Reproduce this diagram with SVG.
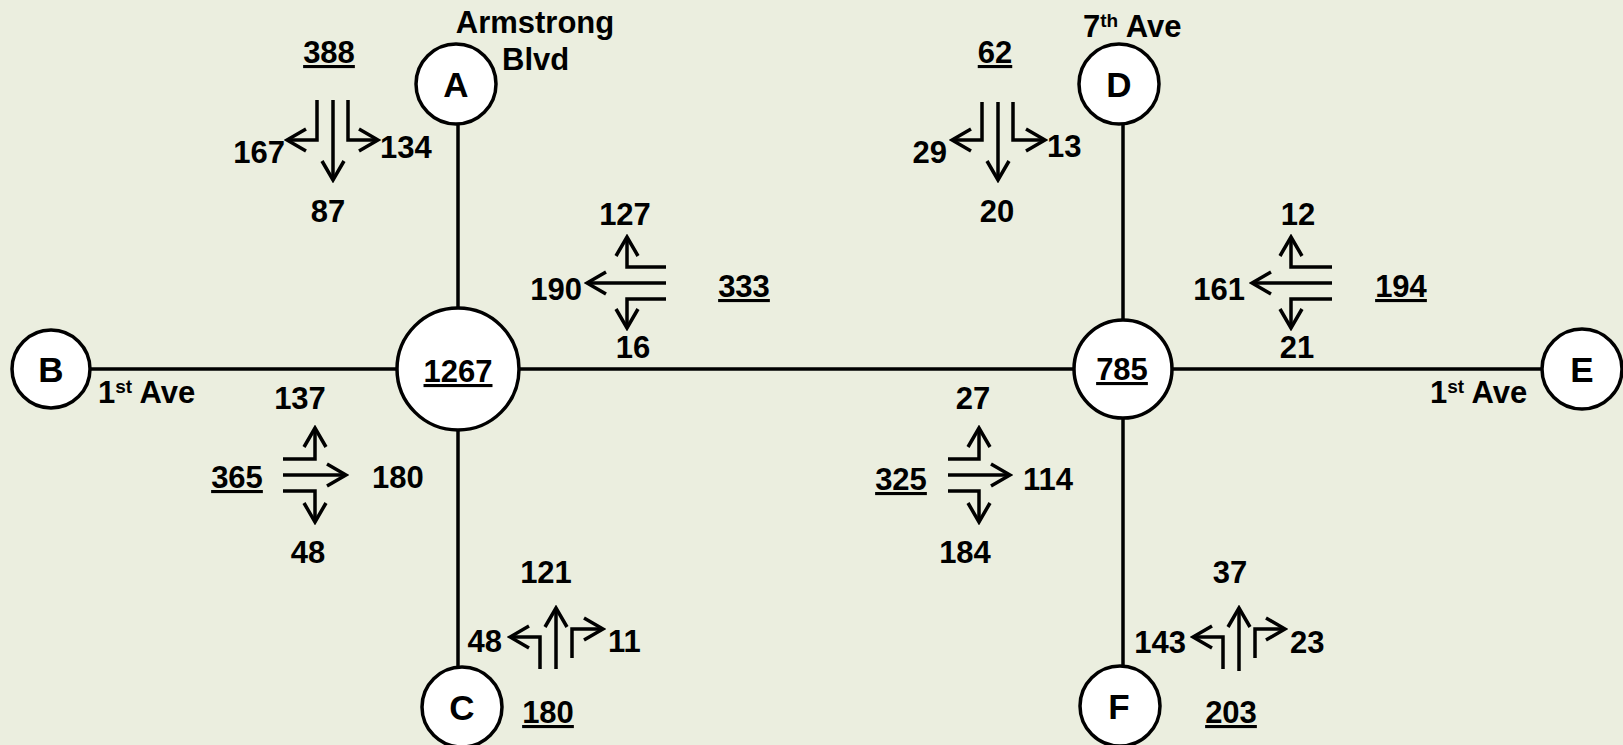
<svg xmlns="http://www.w3.org/2000/svg" width="1623" height="745" viewBox="0 0 1623 745">
<defs>
<style>
.bg{fill:#EBEEDF}
.road{stroke:#000;stroke-width:3.5;fill:none}
.node{fill:#fff;stroke:#000;stroke-width:3.5}
.arr{stroke:#000;stroke-width:3.5;fill:none;marker-end:url(#ah)}
text{font-family:"Liberation Sans",Arial,sans-serif;font-weight:bold;font-size:31px;fill:#000}
.m{text-anchor:middle}
.e{text-anchor:end}
.u{text-decoration:underline}
.lt{font-size:35px;text-anchor:middle}
.sup{font-size:19px}
</style>
<marker id="ah" markerUnits="userSpaceOnUse" markerWidth="26" markerHeight="30" viewBox="-23 -15 26 30" refX="0" refY="0" orient="auto">
<path d="M-19,-11 L0,0 L-19,11" fill="none" stroke="#000" stroke-width="3.5"/>
</marker>
</defs>
<rect class="bg" x="0" y="0" width="1623" height="745"/>

<g id="connectors">
<line class="road" x1="90" y1="369" x2="1542" y2="369"/>
<line class="road" x1="458" y1="124" x2="458" y2="668"/>
<line class="road" x1="1123" y1="125" x2="1123" y2="666"/>
</g>

<g id="node-1267"><circle class="node" cx="458" cy="369" r="61"/><text class="m u" x="458" y="382">1267</text></g>
<g id="node-785"><circle class="node" cx="1123" cy="369" r="49"/><text class="m u" x="1122" y="380">785</text></g>
<g id="node-A"><circle class="node" cx="456" cy="84" r="40"/><text class="lt" x="456" y="97">A</text></g>
<g id="node-B"><circle class="node" cx="51" cy="369" r="39"/><text class="lt" x="51" y="382">B</text></g>
<g id="node-C"><circle class="node" cx="462" cy="707" r="40"/><text class="lt" x="462" y="720">C</text></g>
<g id="node-D"><circle class="node" cx="1119" cy="84" r="40"/><text class="lt" x="1119" y="97">D</text></g>
<g id="node-E"><circle class="node" cx="1582" cy="369" r="40"/><text class="lt" x="1582" y="382">E</text></g>
<g id="node-F"><circle class="node" cx="1120" cy="706" r="40"/><text class="lt" x="1119" y="719">F</text></g>

<g id="street-labels">
<text class="m" x="535" y="33">Armstrong</text>
<text x="502" y="70">Blvd</text>
<text x="1083" y="37">7<tspan class="sup" dy="-10">th</tspan><tspan dy="10"> Ave</tspan></text>
<text x="98" y="403">1<tspan class="sup" dy="-10">st</tspan><tspan dy="10"> Ave</tspan></text>
<text x="1430" y="403">1<tspan class="sup" dy="-10">st</tspan><tspan dy="10"> Ave</tspan></text>
</g>

<g id="movements-A">
<path class="arr" d="M317 100 V140 H287"/>
<path class="arr" d="M333 100 V180"/>
<path class="arr" d="M348 100 V140 H378"/>
<text class="m u" x="329" y="63">388</text>
<text class="e" x="285" y="163">167</text>
<text x="380" y="158">134</text>
<text class="m" x="328" y="222">87</text>
</g>

<g id="movements-1267-east">
<path class="arr" d="M666 267 H627 V237"/>
<path class="arr" d="M666 283 H587"/>
<path class="arr" d="M666 299 H627 V328"/>
<text class="m" x="625" y="225">127</text>
<text class="e" x="582" y="300">190</text>
<text class="m" x="633" y="358">16</text>
<text class="m u" x="744" y="297">333</text>
</g>

<g id="movements-B">
<path class="arr" d="M283 459 H315 V428"/>
<path class="arr" d="M283 475 H346"/>
<path class="arr" d="M283 491 H315 V522"/>
<text class="m" x="300" y="409">137</text>
<text class="m u" x="237" y="488">365</text>
<text x="372" y="488">180</text>
<text class="m" x="308" y="563">48</text>
</g>

<g id="movements-C">
<path class="arr" d="M540 669 V637 H510"/>
<path class="arr" d="M556 669 V608"/>
<path class="arr" d="M572 658 V629 H603"/>
<text class="m" x="546" y="583">121</text>
<text class="e" x="502" y="652">48</text>
<text x="608" y="652">11</text>
<text class="m u" x="548" y="723">180</text>
</g>

<g id="movements-D">
<path class="arr" d="M982 102 V140 H952"/>
<path class="arr" d="M998 102 V180"/>
<path class="arr" d="M1013 102 V140 H1045"/>
<text class="m u" x="995" y="63">62</text>
<text class="e" x="947" y="163">29</text>
<text x="1047" y="157">13</text>
<text class="m" x="997" y="222">20</text>
</g>

<g id="movements-E">
<path class="arr" d="M1332 267 H1291 V237"/>
<path class="arr" d="M1332 283 H1252"/>
<path class="arr" d="M1332 299 H1291 V328"/>
<text class="m" x="1298" y="225">12</text>
<text class="e" x="1245" y="300">161</text>
<text class="m" x="1297" y="358">21</text>
<text class="m u" x="1401" y="297">194</text>
</g>

<g id="movements-785-west">
<path class="arr" d="M948 459 H979 V428"/>
<path class="arr" d="M948 475 H1010"/>
<path class="arr" d="M948 491 H979 V522"/>
<text class="m" x="973" y="409">27</text>
<text class="m u" x="901" y="490">325</text>
<text x="1023" y="490">114</text>
<text class="m" x="965" y="563">184</text>
</g>

<g id="movements-F">
<path class="arr" d="M1223 669 V637 H1193"/>
<path class="arr" d="M1239 671 V608"/>
<path class="arr" d="M1255 658 V629 H1285"/>
<text class="m" x="1230" y="583">37</text>
<text class="e" x="1186" y="653">143</text>
<text x="1290" y="653">23</text>
<text class="m u" x="1231" y="723">203</text>
</g>
</svg>
